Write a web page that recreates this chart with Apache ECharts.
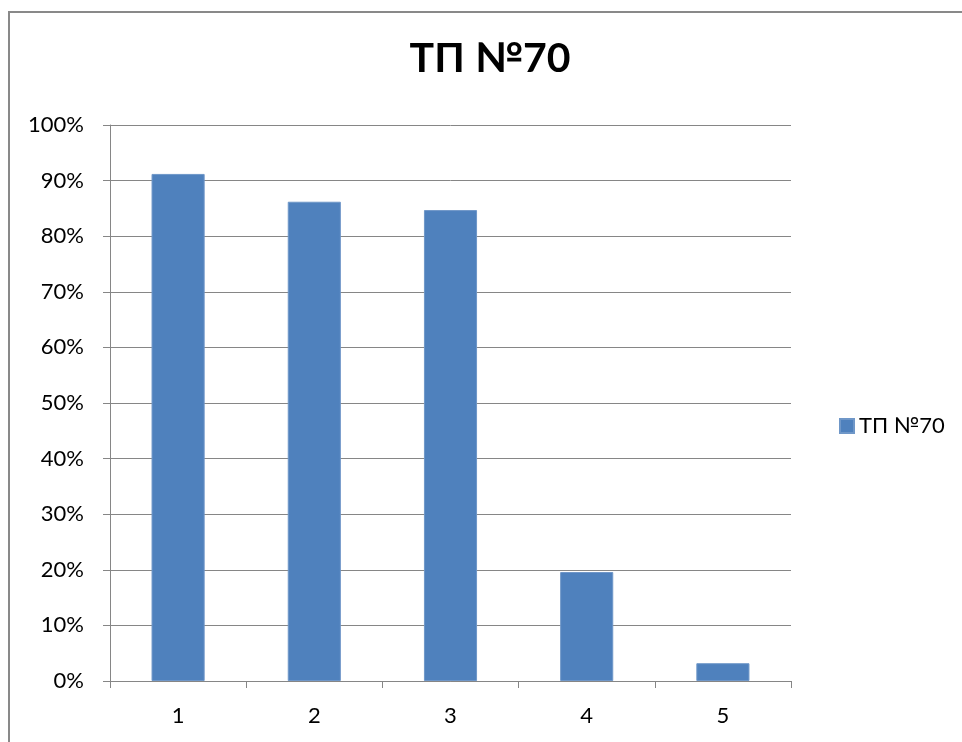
<!DOCTYPE html>
<html>
<head>
<meta charset="utf-8">
<style>
  html, body { margin: 0; padding: 0; background: #fff; }
  #chart { width: 962px; height: 742px; }
</style>
<script src="https://cdn.jsdelivr.net/npm/echarts@6/dist/echarts.min.js"></script>
</head>
<body>
<div id="chart"></div>
<script>
// Share per category, in percent
const seriesName = 'ТП №70';
const categories = ['1', '2', '3', '4', '5'];
const values = [91.2, 86.2, 84.7, 19.6, 3.2];
const yTicks = [0, 10, 20, 30, 40, 50, 60, 70, 80, 90, 100];

const axisGray = '#868686';
const font = 'Lato, "Open Sans", "Liberation Sans", sans-serif';

const chart = echarts.init(document.getElementById('chart'), null, { renderer: 'canvas' });

chart.setOption({
  backgroundColor: '#ffffff',
  animation: false,
  graphic: [{
    type: 'rect',
    shape: { x: 9, y: 12, width: 2000, height: 2000 },
    style: { fill: 'none', stroke: '#898989', lineWidth: 2 },
    silent: true
  }],
  title: {
    text: seriesName,
    left: 485,
    top: 33,
    textAlign: 'center',
    textStyle: { fontFamily: font, fontSize: 41, fontWeight: 'bold', color: '#000' }
  },
  legend: {
    data: [seriesName],
    left: 834,
    top: 410,
    icon: 'rect',
    itemWidth: 14,
    itemHeight: 14,
    itemGap: 6,
    textStyle: { fontFamily: font, fontSize: 22, color: '#000', padding: [0, 0, 0, 0] }
  },
  grid: { left: 110, right: 171, top: 125, bottom: 61, containLabel: false },
  xAxis: {
    type: 'category',
    data: categories,
    boundaryGap: true,
    axisLine: { lineStyle: { color: axisGray, width: 1 } },
    axisTick: { show: true, length: 7, alignWithLabel: false, lineStyle: { color: axisGray } },
    axisLabel: { margin: 24, fontFamily: font, fontSize: 22, color: '#000' }
  },
  yAxis: {
    type: 'value',
    min: yTicks[0],
    max: yTicks[yTicks.length - 1],
    interval: 10,
    axisLine: { show: true, lineStyle: { color: axisGray, width: 1 } },
    axisTick: { show: true, length: 7, lineStyle: { color: axisGray } },
    axisLabel: {
      margin: 26,
      fontFamily: font,
      fontSize: 22,
      color: '#000',
      formatter: v => v + '%'
    },
    splitLine: { show: true, lineStyle: { color: axisGray, width: 1 } }
  },
  series: [{
    name: seriesName,
    type: 'bar',
    data: values,
    barWidth: '39%',
    itemStyle: { color: '#4F81BD', borderColor: '#6F97C8', borderWidth: 1 }
  }]
});
</script>
</body>
</html>
